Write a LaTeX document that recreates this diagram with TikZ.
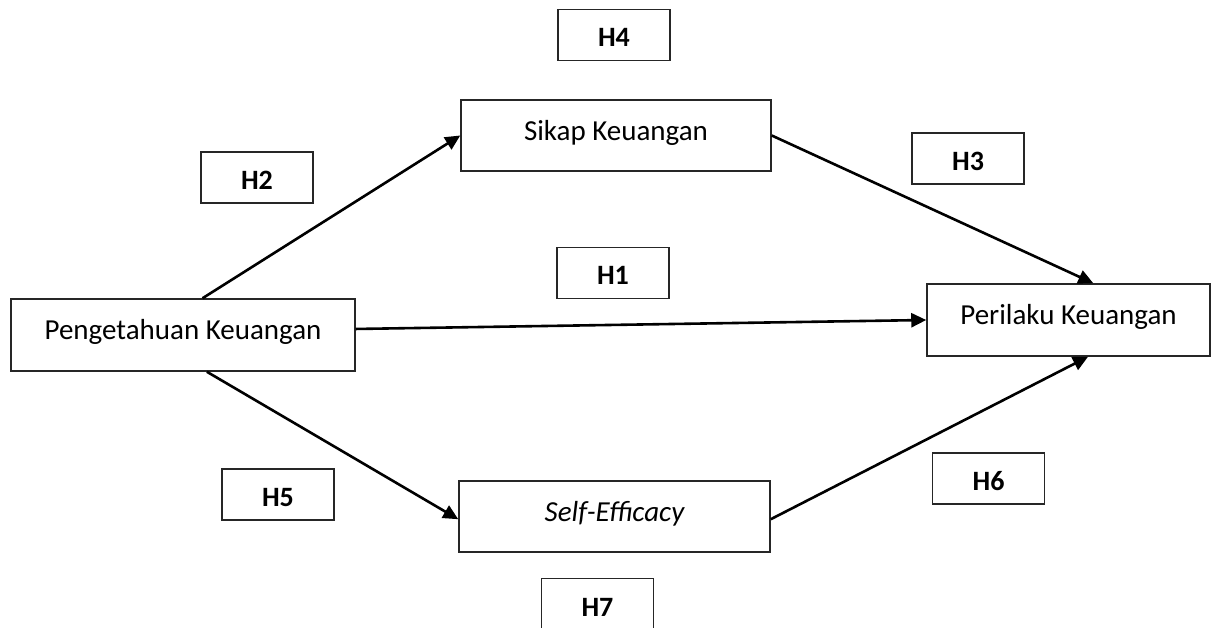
\documentclass[tikz,border=0pt]{standalone}
\usepackage{fontspec}
\setmainfont{Carlito}
\usetikzlibrary{arrows.meta,calc}

\begin{document}
\begin{tikzpicture}[x=1pt,y=-1pt,
    var/.style={draw=black!85,line width=1.5pt,rectangle,inner sep=0pt,
      font=\fontsize{29}{35}\selectfont,text height=20pt,text depth=10pt},
    hyp/.style={draw=black!85,line width=1.5pt,rectangle,inner sep=0pt,
      minimum width=112pt,minimum height=51pt,
      font=\fontsize{28}{34}\selectfont\bfseries,text height=24pt,text depth=0pt},
    link/.style={line width=2.6pt,-{Triangle[length=15pt,width=14pt]}}]
    \useasboundingbox (0,0) rectangle (1216,628);
    % variables
    \node[var,minimum width=344pt,minimum height=72pt] (peng) at (183,335) {Pengetahuan Keuangan};
    \node[var,minimum width=310pt,minimum height=71pt] (sikap) at (616,135.5) {Sikap Keuangan};
    \node[var,minimum width=283pt,minimum height=72pt] (perilaku) at (1068.5,320) {Perilaku Keuangan};
    \node[var,minimum width=311pt,minimum height=71pt] (self) at (614.5,516.5) {\itshape Self-Efficacy};
    % hypotheses
    \node[hyp] (h1) at (613,273) {H1};
    \node[hyp] (h2) at (257,177.5) {H2};
    \node[hyp] (h3) at (968,158.5) {H3};
    \node[hyp] (h4) at (614,35) {H4};
    \node[hyp] (h5) at (278,494.5) {H5};
    \node[hyp] (h6) at (988.5,478.5) {H6};
    \node[hyp] (h7) at (597.5,604) {H7};
    % paths
    \draw[link] (peng.62) -- (sikap.west);
    \draw[link] (peng.2) -- (perilaku.west);
    \draw[link] (peng.-57) -- (self.181);
    \draw[link] (sikap.east) -- (perilaku.56);
    \draw[link] (self.-1) -- (perilaku.-62);
\end{tikzpicture}
\end{document}
